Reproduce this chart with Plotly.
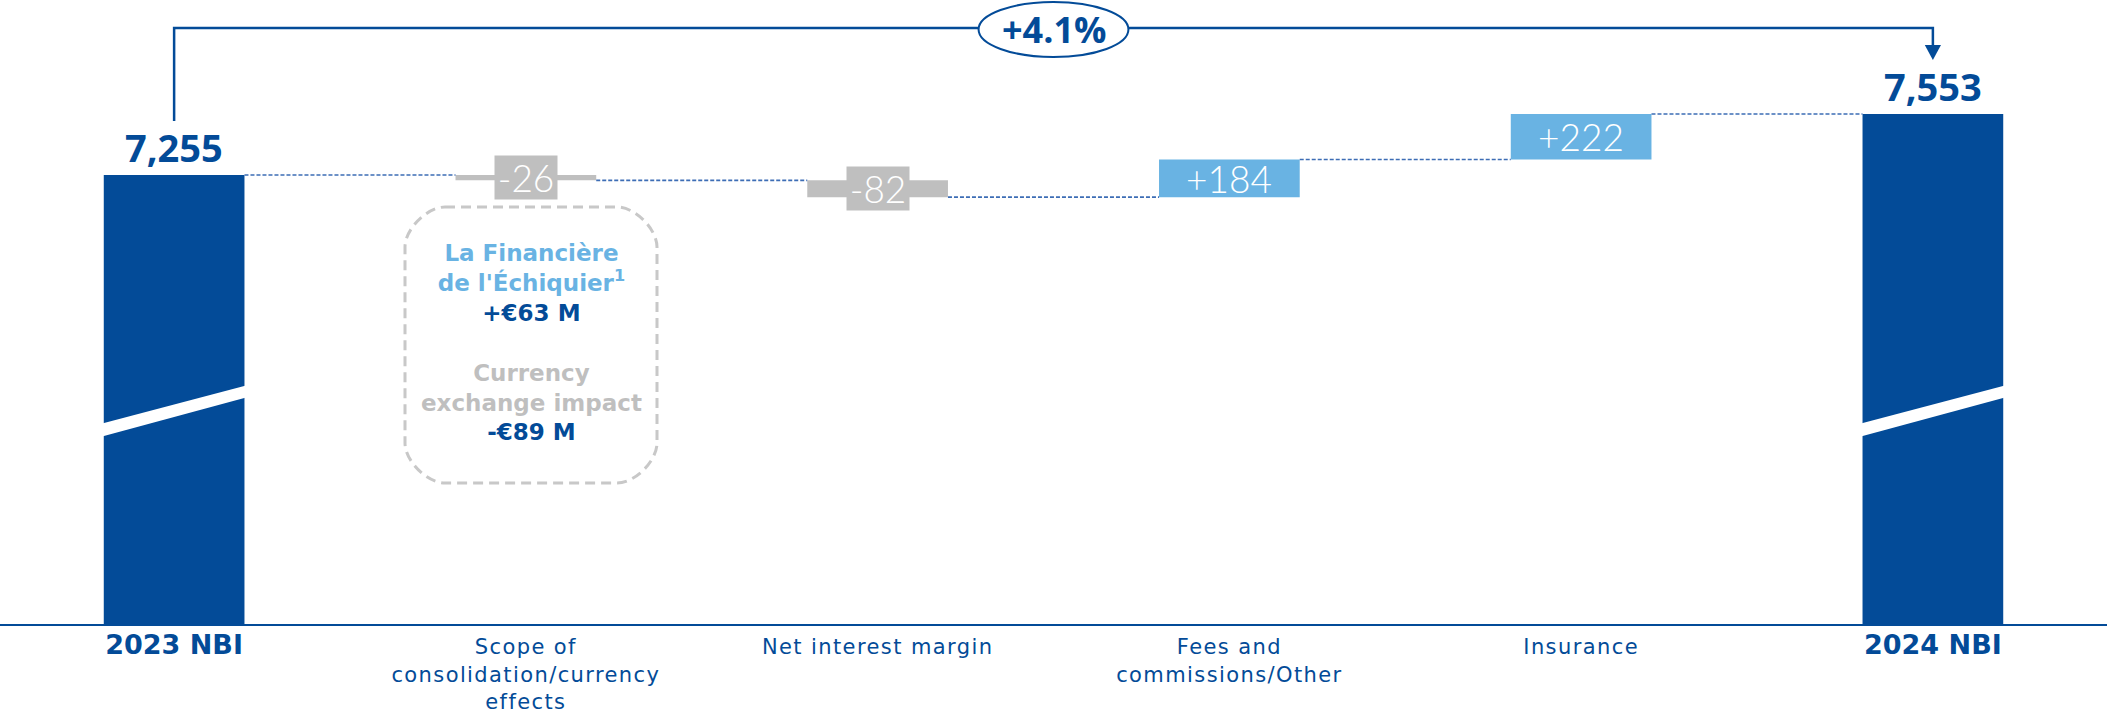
import plotly.graph_objects as go

# ---- data ----
categories = [
    "2023 NBI",
    "Scope of<br>consolidation/currency<br>effects",
    "Net interest margin",
    "Fees and<br>commissions/Other",
    "Insurance",
    "2024 NBI",
]
nbi_2023 = 7255
nbi_2024 = 7553
changes = [-26, -82, 184, 222]          # scope/fx, NIM, fees, insurance
scope_note = {
    "acquisition": "La Financière<br>de l'Échiquier<sup>1</sup>",
    "acquisition_value": "+€63 M",
    "fx": "Currency<br>exchange impact",
    "fx_value": "-€89 M",
}

# ---- style ----
DARK = "#034B98"
LIGHT = "#69B3E3"
GREY = "#BFBFBF"
CONNECTOR = "#3D6DB5"
W, H = 2107, 714
PLOT_H = 624                       # plot area height in px (bottom margin 90)
BAR_W = 0.4
Y_RANGE = [5062, 8110]             # truncated value axis (broken bars)


def pyp(row):
    """pixel row inside the plot area -> paper y"""
    return 1 - row / PLOT_H


def pxp(col):
    """pixel column -> paper x"""
    return col / W


# running totals for the waterfall
levels = [nbi_2023]
for c in changes:
    levels.append(levels[-1] + c)
bases = levels[:-1]
n = len(categories)
x_idx = list(range(n))
delta_x = x_idx[1:-1]

fig = go.Figure()

# totals
fig.add_trace(go.Bar(
    x=[0, n - 1], y=[nbi_2023, nbi_2024], width=BAR_W,
    marker=dict(color=DARK, line=dict(width=0)), hoverinfo="skip",
))
# negative and positive contributions
neg = [(x, b, c) for x, b, c in zip(delta_x, bases, changes) if c < 0]
pos = [(x, b, c) for x, b, c in zip(delta_x, bases, changes) if c >= 0]
fig.add_trace(go.Bar(
    x=[p[0] for p in neg], base=[p[1] for p in neg], y=[p[2] for p in neg],
    width=BAR_W, marker=dict(color=GREY, line=dict(width=0)), hoverinfo="skip",
))
fig.add_trace(go.Bar(
    x=[p[0] for p in pos], base=[p[1] for p in pos], y=[p[2] for p in pos],
    width=BAR_W, marker=dict(color=LIGHT, line=dict(width=0)), hoverinfo="skip",
))

# dashed connectors between consecutive bars
cx, cy = [], []
for i, lvl in enumerate(levels):
    cx += [i + BAR_W / 2, i + 1 - BAR_W / 2, None]
    cy += [lvl, lvl, None]
fig.add_trace(go.Scatter(
    x=cx, y=cy, mode="lines", hoverinfo="skip",
    line=dict(color=CONNECTOR, width=1.6, dash="4px,2px"),
))

annotations = []
shapes = []

# total labels
for x, v in [(0, nbi_2023), (n - 1, nbi_2024)]:
    annotations.append(dict(
        x=x, y=v, xref="x", yref="y", text=f"{v:,}", showarrow=False,
        xanchor="center", yanchor="middle", yshift=28,
        font=dict(family="Open Sans", size=38, color=DARK, weight="bold"),
    ))

# contribution labels
for x, b, c in zip(delta_x, bases, changes):
    ann = dict(
        x=x, y=b + c / 2, xref="x", yref="y", text=f"{c:+d}", showarrow=False,
        font=dict(family="Lato", size=37, color="white", weight=300),
        xanchor="center", yanchor="middle",
    )
    if c < 0:
        ann.update(bgcolor=GREY, width=60, height=41)
    annotations.append(ann)

# break marks on the truncated total bars
for x in (0, n - 1):
    x0, x1 = x - BAR_W / 2 - 0.01, x + BAR_W / 2 + 0.01
    slope = (6225 - 6044) / BAR_W
    lo0 = 5980 - slope * 0.01
    hi0 = 6044 - slope * 0.01
    lo1 = 6166 + slope * 0.01
    hi1 = 6225 + slope * 0.01
    shapes.append(dict(
        type="path", xref="x", yref="y", layer="above",
        path=f"M {x0},{hi0} L {x1},{hi1} L {x1},{lo1} L {x0},{lo0} Z",
        fillcolor="white", line=dict(width=0),
    ))

# growth bracket from 2023 to 2024
growth = (nbi_2024 / nbi_2023 - 1) * 100
shapes.append(dict(
    type="path", xref="x", yref="paper", layer="above",
    path=f"M 0,{pyp(121)} L 0,{pyp(28)} L {n - 1},{pyp(28)} L {n - 1},{pyp(47)}",
    line=dict(color=DARK, width=2.5),
))
shapes.append(dict(
    type="path", xref="x", yref="paper", layer="above",
    path=(f"M {n - 1 - 0.023},{pyp(45)} L {n - 1 + 0.023},{pyp(45)} "
          f"L {n - 1},{pyp(60)} Z"),
    fillcolor=DARK, line=dict(width=0),
))
mid = (n - 1) / 2
shapes.append(dict(
    type="circle", xref="x", yref="paper", layer="above",
    x0=mid - 0.213, x1=mid + 0.213, y0=pyp(57), y1=pyp(2),
    fillcolor="white", line=dict(color=DARK, width=2),
))
annotations.append(dict(
    x=mid, y=pyp(29), xref="x", yref="paper", text=f"{growth:+.1f}%",
    showarrow=False, xanchor="center", yanchor="middle",
    font=dict(family="Open Sans", size=36, color=DARK, weight="bold"),
))

# dashed rounded box detailing the scope / currency effect
bx0, bx1, by0, by1, r = 405, 657, 207, 483, 40
k = 0.45 * r
box_path = (
    f"M {pxp(bx0 + r)},{pyp(by0)} L {pxp(bx1 - r)},{pyp(by0)} "
    f"C {pxp(bx1 - r + k)},{pyp(by0)} {pxp(bx1)},{pyp(by0 + r - k)} {pxp(bx1)},{pyp(by0 + r)} "
    f"L {pxp(bx1)},{pyp(by1 - r)} "
    f"C {pxp(bx1)},{pyp(by1 - r + k)} {pxp(bx1 - r + k)},{pyp(by1)} {pxp(bx1 - r)},{pyp(by1)} "
    f"L {pxp(bx0 + r)},{pyp(by1)} "
    f"C {pxp(bx0 + r - k)},{pyp(by1)} {pxp(bx0)},{pyp(by1 - r + k)} {pxp(bx0)},{pyp(by1 - r)} "
    f"L {pxp(bx0)},{pyp(by0 + r)} "
    f"C {pxp(bx0)},{pyp(by0 + r - k)} {pxp(bx0 + r - k)},{pyp(by0)} {pxp(bx0 + r)},{pyp(by0)} Z"
)
shapes.append(dict(
    type="path", xref="paper", yref="paper", layer="above", path=box_path,
    line=dict(color="#C8C8C8", width=3, dash="10px,6px"),
))
box_text = (
    f"<span style='color:{LIGHT}'>{scope_note['acquisition']}</span><br>"
    f"{scope_note['acquisition_value']}<br><br>"
    f"<span style='color:{GREY}'>{scope_note['fx']}</span><br>"
    f"{scope_note['fx_value']}"
)
annotations.append(dict(
    x=pxp((bx0 + bx1) / 2), y=pyp(342), xref="paper", yref="paper",
    text=box_text, showarrow=False, align="center",
    xanchor="center", yanchor="middle",
    font=dict(family="DejaVu Sans", size=23, color=DARK, weight="bold"),
))

# category tick labels (totals in bold)
tick_text = []
for i, c in enumerate(categories):
    if i in (0, n - 1):
        tick_text.append(f"<b><span style='font-size:27px'>{c}</span></b>")
    else:
        lines = c.split("<br>")
        tick_text.append("<br>".join(
            f"<span style='letter-spacing:1.4px'>{ln}</span>" for ln in lines))

fig.update_layout(
    width=W, height=H,
    margin=dict(l=0, r=0, t=0, b=H - PLOT_H, pad=0),
    paper_bgcolor="white", plot_bgcolor="white",
    showlegend=False, barmode="overlay",
    annotations=annotations, shapes=shapes,
    xaxis=dict(
        range=[-0.495, n - 1 + 0.495], tickvals=x_idx, ticktext=tick_text,
        showgrid=False, zeroline=False, showline=True, linecolor=DARK,
        linewidth=2, ticks="", fixedrange=True, ticklabelstandoff=3,
        automargin=False,
        tickfont=dict(family="DejaVu Sans", size=21, color=DARK),
    ),
    yaxis=dict(range=Y_RANGE, visible=False, fixedrange=True,
               automargin=False),
)

fig.write_html("out.html")
